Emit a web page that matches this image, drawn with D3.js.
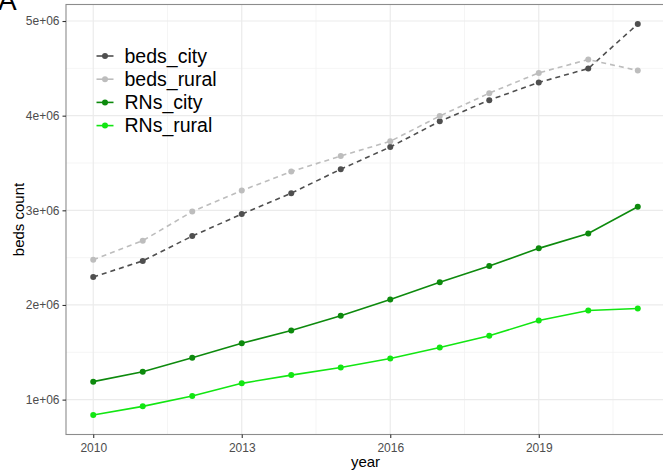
<!DOCTYPE html>
<html>
<head>
<meta charset="utf-8">
<script src="https://cdn.jsdelivr.net/npm/d3@7"></script>
<style>
  body { margin: 0; background: #fff; }
  svg { display: block; font-family: 'Liberation Sans', Arial, Helvetica, sans-serif; }
</style>
</head>
<body>
<svg id="chart" width="663" height="472"></svg>
<script>
'use strict';

var years = [2010, 2011, 2012, 2013, 2014, 2015, 2016, 2017, 2018, 2019, 2020, 2021];
var bedsCity  = [2296000, 2465000, 2728000, 2960000, 3181000, 3434000, 3669000, 3940000, 4164000, 4351000, 4498000, 4968000];
var bedsRural = [2478000, 2679000, 2987000, 3209000, 3409000, 3574000, 3729000, 3996000, 4238000, 4452000, 4593000, 4477000];
var rnsCity   = [1190000, 1295000, 1443000, 1596000, 1730000, 1885000, 2057000, 2239000, 2412000, 2598000, 2756000, 3037000];
var rnsRural  = [838000, 929000, 1038000, 1172000, 1259000, 1340000, 1435000, 1551000, 1674000, 1836000, 1941000, 1962000];
var seriesNames = ['beds_city', 'beds_rural', 'RNs_city', 'RNs_rural'];
var xTicks = [2010, 2013, 2016, 2019];
var xMinor = [2011.5, 2014.5, 2017.5, 2020.5];
var yTicks = [1e6, 2e6, 3e6, 4e6, 5e6];
var yMinor = [1.5e6, 2.5e6, 3.5e6, 4.5e6];

var series = [
    { name: seriesNames[0], values: bedsCity,  color: '#4f4f4f', dash: '5,4' },
    { name: seriesNames[1], values: bedsRural, color: '#bdbdbd', dash: '5,4' },
    { name: seriesNames[2], values: rnsCity,   color: '#0d8a0d', dash: null },
    { name: seriesNames[3], values: rnsRural,  color: '#12e612', dash: null }
];

var svg = d3.select('#chart');

var PANEL = { left: 66, right: 665, top: 4.5, bottom: 434.5 };

// ggplot style 5% expansion
var allValues = d3.merge(series.map(function (s) { return s.values; }));
var yExt = d3.extent(allValues);
var yPad = (yExt[1] - yExt[0]) * 0.05;
var xExt = d3.extent(years);
var xPad = (xExt[1] - xExt[0]) * 0.05;

var x = d3.scaleLinear()
    .domain([xExt[0] - xPad, xExt[1] + xPad])
    .range([PANEL.left, PANEL.right]);
var y = d3.scaleLinear()
    .domain([yExt[0] - yPad, yExt[1] + yPad])
    .range([PANEL.bottom, PANEL.top]);

// Panel background and grid
var grid = svg.append('g');
grid.selectAll('line.xminor')
    .data(xMinor).enter().append('line')
    .attr('x1', function (d) { return x(d); })
    .attr('x2', function (d) { return x(d); })
    .attr('y1', PANEL.top).attr('y2', PANEL.bottom)
    .style('stroke', '#f2f2f2').style('stroke-width', 0.8);
grid.selectAll('line.yminor')
    .data(yMinor).enter().append('line')
    .attr('y1', function (d) { return y(d); })
    .attr('y2', function (d) { return y(d); })
    .attr('x1', PANEL.left).attr('x2', PANEL.right)
    .style('stroke', '#f2f2f2').style('stroke-width', 0.8);
grid.selectAll('line.xmajor')
    .data(xTicks).enter().append('line')
    .attr('x1', function (d) { return x(d); })
    .attr('x2', function (d) { return x(d); })
    .attr('y1', PANEL.top).attr('y2', PANEL.bottom)
    .style('stroke', '#ebebeb').style('stroke-width', 1.2);
grid.selectAll('line.ymajor')
    .data(yTicks).enter().append('line')
    .attr('y1', function (d) { return y(d); })
    .attr('y2', function (d) { return y(d); })
    .attr('x1', PANEL.left).attr('x2', PANEL.right)
    .style('stroke', '#ebebeb').style('stroke-width', 1.2);

// Lines and points
var line = d3.line()
    .x(function (d, i) { return x(years[i]); })
    .y(function (d) { return y(d); });

var layers = svg.append('g').selectAll('g.layer')
    .data(series).enter().append('g')
    .attr('class', 'layer');
layers.append('path')
    .attr('d', function (s) { return line(s.values); })
    .style('fill', 'none')
    .style('stroke', function (s) { return s.color; })
    .style('stroke-width', 1.6)
    .style('stroke-dasharray', function (s) { return s.dash; });
layers.selectAll('circle')
    .data(function (s) { return s.values.map(function (v, i) { return { v: v, yr: years[i], c: s.color }; }); })
    .enter().append('circle')
    .attr('cx', function (d) { return x(d.yr); })
    .attr('cy', function (d) { return y(d.v); })
    .attr('r', 3)
    .style('fill', function (d) { return d.c; });

// Panel border
svg.append('rect')
    .attr('x', PANEL.left).attr('y', PANEL.top)
    .attr('width', PANEL.right - PANEL.left)
    .attr('height', PANEL.bottom - PANEL.top)
    .style('fill', 'none')
    .style('stroke', '#8c8c8c')
    .style('stroke-width', 1.1);

// Axes
var xAxis = d3.axisBottom(x)
    .tickValues(xTicks)
    .tickFormat(d3.format('d'))
    .tickSize(3.5)
    .tickPadding(5);
var xAxisEl = svg.append('g')
    .attr('transform', 'translate(0,' + PANEL.bottom + ')')
    .call(xAxis);
var yAxis = d3.axisLeft(y)
    .tickValues(yTicks)
    .tickFormat(function (d) { return (d / 1e6) + 'e+06'; })
    .tickSize(3.5)
    .tickPadding(3);
var yAxisEl = svg.append('g')
    .attr('transform', 'translate(' + PANEL.left + ',0)')
    .call(yAxis);
[xAxisEl, yAxisEl].forEach(function (ax) {
    ax.select('.domain').remove();
    ax.selectAll('.tick line').style('stroke', '#333').style('stroke-width', 1.1);
    ax.selectAll('.tick text')
        .style('fill', '#4d4d4d')
        .style('font-size', '12px')
        .style('font-family', "'Liberation Sans', Arial, sans-serif");
});

// Axis titles
svg.append('text')
    .attr('x', (PANEL.left + PANEL.right) / 2)
    .attr('y', 467)
    .attr('text-anchor', 'middle')
    .style('font-size', '15px')
    .text('year');
svg.append('text')
    .attr('transform', 'translate(24,' + ((PANEL.top + PANEL.bottom) / 2) + ') rotate(-90)')
    .attr('text-anchor', 'middle')
    .style('font-size', '15px')
    .text('beds count');

// Legend
var legend = svg.append('g')
    .attr('transform', 'translate(96.5,56)');
var item = legend.selectAll('g')
    .data(series).enter().append('g')
    .attr('transform', function (d, i) { return 'translate(0,' + (i * 23.2) + ')'; });
item.append('line')
    .attr('x1', 0).attr('x2', 17)
    .style('stroke', function (d) { return d.color; })
    .style('stroke-width', 1.6);
item.append('circle')
    .attr('cx', 8.5).attr('r', 3)
    .style('fill', function (d) { return d.color; });
item.append('text')
    .attr('x', 28)
    .attr('dy', '0.35em')
    .style('font-size', '19.5px')
    .text(function (d) { return d.name; });

// Panel tag, mostly cut off at the top
svg.append('text')
    .attr('x', -2)
    .attr('y', 10)
    .style('font-size', '28px')
    .text('A');
</script>
</body>
</html>
